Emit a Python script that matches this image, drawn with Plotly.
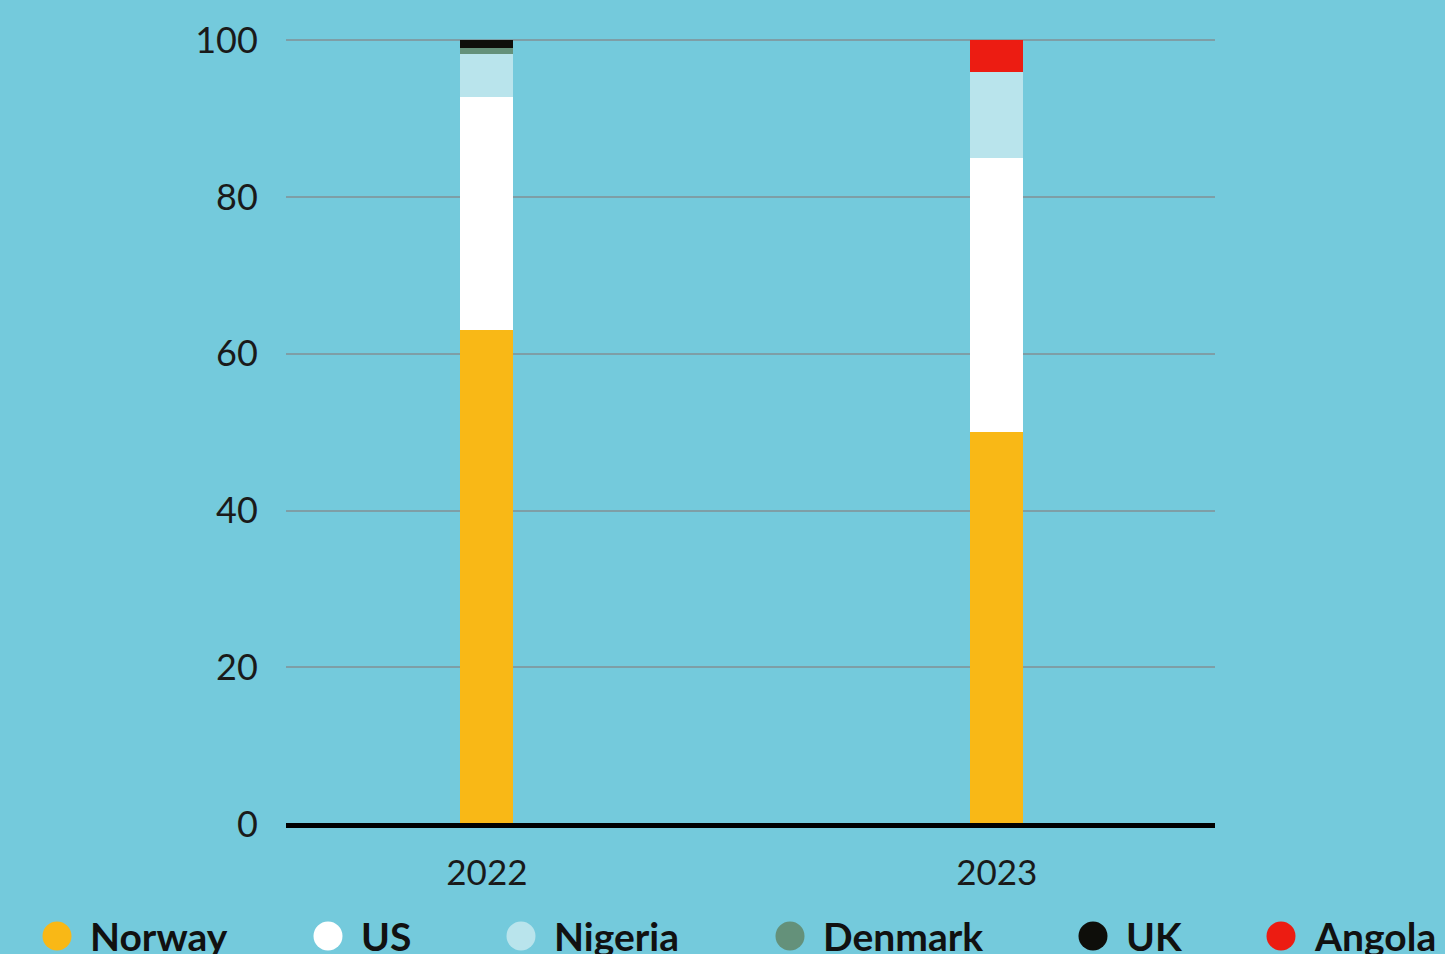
import plotly.graph_objects as go

years = ["2022", "2023"]
countries = ["Norway", "US", "Nigeria", "Denmark", "UK", "Angola"]
norway = [63.0, 50.0]
us = [29.8, 35.0]
nigeria = [5.4, 11.0]
denmark = [0.8, 0.0]
uk = [1.0, 0.0]
angola = [0.0, 4.0]
colors = ["#F9B816", "#FFFFFF", "#B9E4EC", "#64917A", "#0E0E0A", "#EC1C12"]
y_ticks = [0, 20, 40, 60, 80, 100]

series = [norway, us, nigeria, denmark, uk, angola]
BG = "#74CADC"
W, H = 1445, 954
L, R, T, B = 286, 230, 38, 130
PW, PH = W - L - R, H - T - B

fig = go.Figure()
for name, vals, col in zip(countries, series, colors):
    fig.add_trace(go.Bar(x=years, y=vals, name=name, marker=dict(color=col, line=dict(width=0)),
                         width=0.104, showlegend=False))

fig.update_layout(
    barmode="stack",
    width=W, height=H,
    paper_bgcolor=BG, plot_bgcolor=BG,
    margin=dict(l=L, r=R, t=T, b=B),
    font=dict(family="Lato", color="#1a1a1a"),
    xaxis=dict(range=[-0.394, 1.428], showgrid=False, zeroline=False, showline=False,
               tickfont=dict(size=35, family="Lato", color="#1a1a1a"),
               ticks="outside", ticklen=18, tickcolor="rgba(0,0,0,0)"),
    yaxis=dict(range=[0, 100.3], tickvals=y_ticks, showgrid=True, gridcolor="#7E9EA6", gridwidth=1.5,
               zeroline=False, showline=False,
               tickfont=dict(size=36, family="Lato", color="#1a1a1a"),
               ticks="outside", ticklen=20, tickcolor="rgba(0,0,0,0)"),
)
# thick baseline (paper refs so it is not clipped by the plot area)
fig.add_shape(type="line", xref="paper", yref="paper", x0=0, x1=1, y0=-1.5 / PH, y1=-1.5 / PH,
              line=dict(color="#000000", width=5))

# custom legend with circles
circle_x = [57, 328, 521, 790, 1093, 1281]
cy = 936
r = 14.5
for name, col, cx in zip(countries, colors, circle_x):
    fig.add_shape(type="circle", xref="paper", yref="paper",
                  x0=(cx - r - L) / PW, x1=(cx + r - L) / PW,
                  y0=(H - B - (cy + r)) / PH, y1=(H - B - (cy - r)) / PH,
                  fillcolor=col, line=dict(width=0))
    fig.add_annotation(xref="paper", yref="paper",
                       x=(cx + 31 - L) / PW, y=(H - B - cy) / PH,
                       text="<b>" + name + "</b>", showarrow=False, xanchor="left", yanchor="middle",
                       font=dict(size=39, family="Lato", color="#111111"))

fig.write_html("out.html", config={"displayModeBar": False},
               post_script="document.body.style.margin='0px';document.body.style.overflow='hidden';")
